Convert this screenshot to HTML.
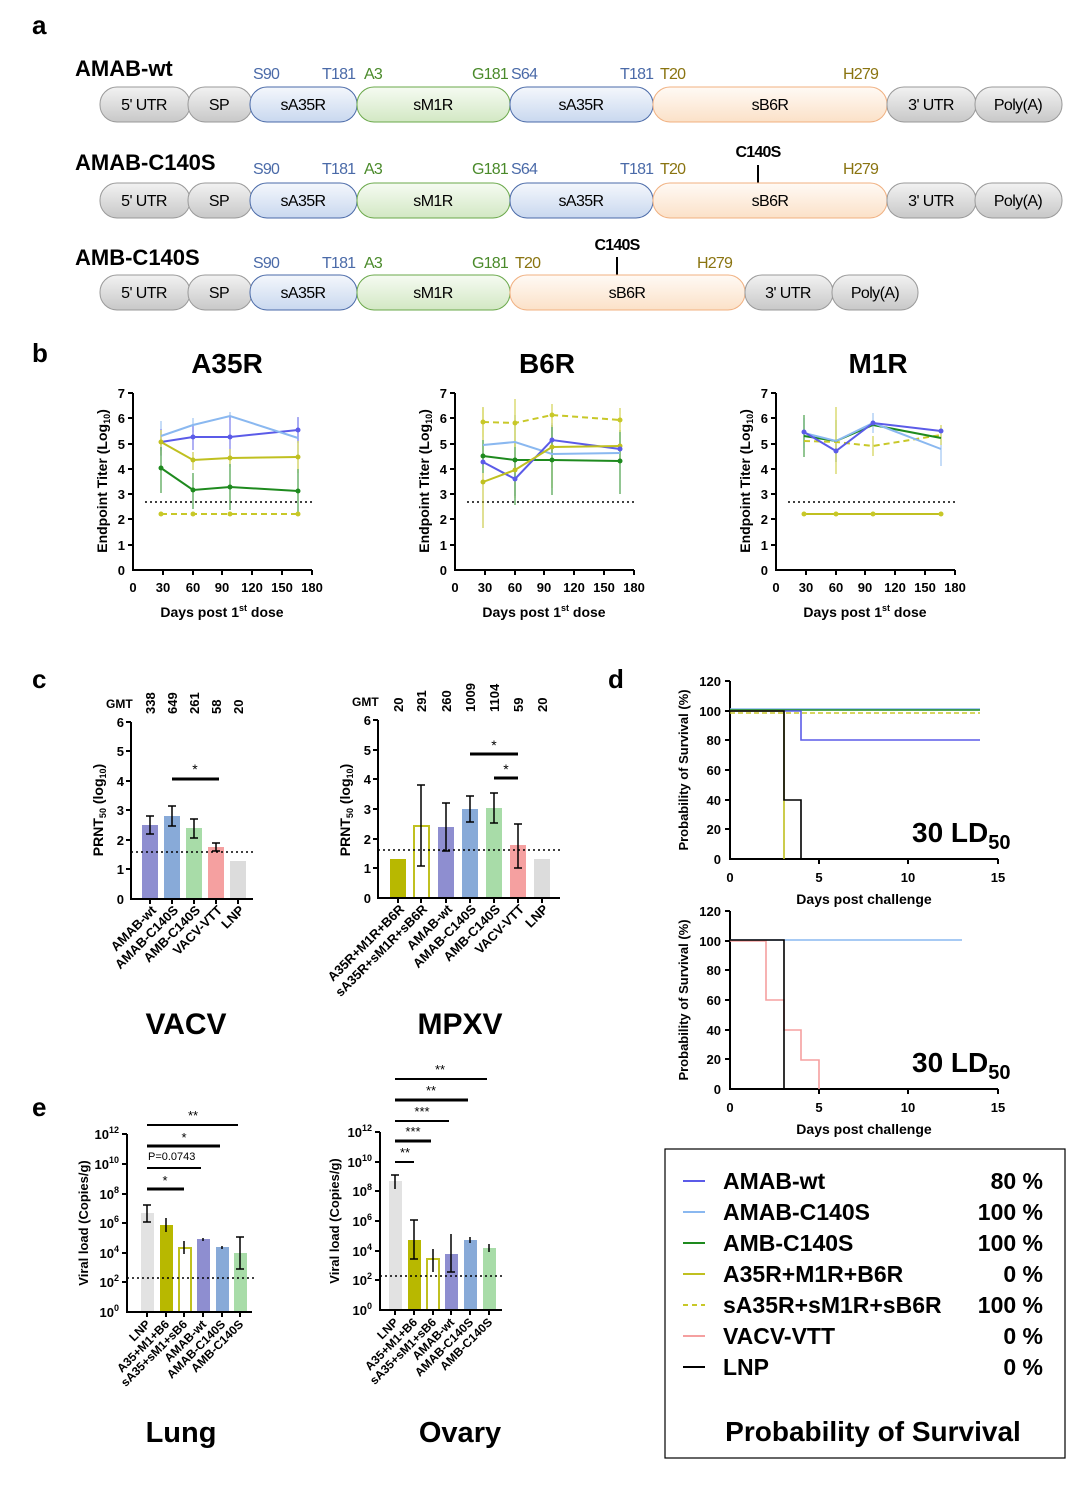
<!DOCTYPE html>
<html><head><meta charset="utf-8"><style>
html,body{margin:0;padding:0;background:#fff}
svg{display:block}
text{font-family:"Liberation Sans",Arial,sans-serif}
.n{font-family:"Liberation Sans Narrow","Liberation Sans",sans-serif;letter-spacing:-0.8px}
.seg{font-family:"Liberation Sans Narrow","Liberation Sans",sans-serif;font-size:16px;letter-spacing:-0.6px;text-anchor:middle}
.tk{font-size:13px;font-weight:bold}
.ax{stroke:#000;stroke-width:2;fill:none}
.dot{stroke:#000;stroke-width:1.5;stroke-dasharray:2,3;fill:none}
</style></head><body>
<svg width="1092" height="1486" viewBox="0 0 1092 1486" xmlns="http://www.w3.org/2000/svg">
<defs>
<linearGradient id="gG" x1="0" y1="0" x2="0" y2="1"><stop offset="0" stop-color="#f2f2f2"/><stop offset="1" stop-color="#c8c8c8"/></linearGradient>
<linearGradient id="gB" x1="0" y1="0" x2="0" y2="1"><stop offset="0" stop-color="#f4f7fc"/><stop offset="1" stop-color="#c9d8ef"/></linearGradient>
<linearGradient id="gM" x1="0" y1="0" x2="0" y2="1"><stop offset="0" stop-color="#f6fbf2"/><stop offset="1" stop-color="#d3e8c4"/></linearGradient>
<linearGradient id="gO" x1="0" y1="0" x2="0" y2="1"><stop offset="0" stop-color="#fffaf5"/><stop offset="1" stop-color="#fbe1c8"/></linearGradient>
</defs>
<g font-weight="bold" font-size="26"><text x="32" y="34">a</text><text x="32" y="362">b</text><text x="32" y="688">c</text><text x="608" y="688">d</text><text x="32" y="1116">e</text></g>

<!-- Panel a -->
<g font-weight="bold" font-size="22"><text x="75" y="76">AMAB-wt</text><text x="75" y="170">AMAB-C140S</text><text x="75" y="265">AMB-C140S</text></g>
<g class="n" font-size="16">
<g fill="#4a6aa8"><text x="253" y="79">S90</text><text x="322" y="79">T181</text><text x="511" y="79">S64</text><text x="620" y="79">T181</text>
<text x="253" y="174">S90</text><text x="322" y="174">T181</text><text x="511" y="174">S64</text><text x="620" y="174">T181</text>
<text x="253" y="268">S90</text><text x="322" y="268">T181</text></g>
<g fill="#4a8a2a"><text x="364" y="79">A3</text><text x="472" y="79">G181</text><text x="364" y="174">A3</text><text x="472" y="174">G181</text><text x="364" y="268">A3</text><text x="472" y="268">G181</text></g>
<g fill="#8a7410"><text x="660" y="79">T20</text><text x="843" y="79">H279</text><text x="660" y="174">T20</text><text x="843" y="174">H279</text><text x="515" y="268">T20</text><text x="697" y="268">H279</text></g>
<g fill="#000" font-weight="bold"><text x="758" y="157" text-anchor="middle">C140S</text><text x="617" y="250" text-anchor="middle">C140S</text></g>
</g>
<line x1="758" y1="165" x2="758" y2="183" stroke="#000" stroke-width="2"/>
<line x1="617" y1="257" x2="617" y2="275" stroke="#000" stroke-width="2"/>
<g id="rowA">
<rect x="100" y="87" width="90" height="35" rx="17" fill="url(#gG)" stroke="#999"/>
<rect x="188" y="87" width="64" height="35" rx="17" fill="url(#gG)" stroke="#999"/>
<rect x="250" y="87" width="107" height="35" rx="17" fill="url(#gB)" stroke="#4a6aa8"/>
<rect x="357" y="87" width="153" height="35" rx="17" fill="url(#gM)" stroke="#6aa84a"/>
<rect x="510" y="87" width="143" height="35" rx="17" fill="url(#gB)" stroke="#4a6aa8"/>
<rect x="653" y="87" width="234" height="35" rx="17" fill="url(#gO)" stroke="#f0b080"/>
<rect x="887" y="87" width="89" height="35" rx="17" fill="url(#gG)" stroke="#999"/>
<rect x="975" y="87" width="87" height="35" rx="17" fill="url(#gG)" stroke="#999"/>
<g class="seg"><text x="144" y="110">5' UTR</text><text x="219" y="110">SP</text><text x="303" y="110">sA35R</text><text x="433" y="110">sM1R</text><text x="581" y="110">sA35R</text><text x="770" y="110">sB6R</text><text x="931" y="110">3' UTR</text><text x="1018" y="110">Poly(A)</text></g>
</g>
<use href="#rowA" y="96"/>
<g>
<rect x="100" y="275" width="90" height="35" rx="17" fill="url(#gG)" stroke="#999"/>
<rect x="188" y="275" width="64" height="35" rx="17" fill="url(#gG)" stroke="#999"/>
<rect x="250" y="275" width="107" height="35" rx="17" fill="url(#gB)" stroke="#4a6aa8"/>
<rect x="357" y="275" width="153" height="35" rx="17" fill="url(#gM)" stroke="#6aa84a"/>
<rect x="510" y="275" width="235" height="35" rx="17" fill="url(#gO)" stroke="#f0b080"/>
<rect x="745" y="275" width="88" height="35" rx="17" fill="url(#gG)" stroke="#999"/>
<rect x="832" y="275" width="86" height="35" rx="17" fill="url(#gG)" stroke="#999"/>
<g class="seg"><text x="144" y="298">5' UTR</text><text x="219" y="298">SP</text><text x="303" y="298">sA35R</text><text x="433" y="298">sM1R</text><text x="627" y="298">sB6R</text><text x="788" y="298">3' UTR</text><text x="875" y="298">Poly(A)</text></g>
</g>

<!-- Panel b -->
<g font-weight="bold" font-size="28" text-anchor="middle"><text x="227" y="373">A35R</text><text x="547" y="373">B6R</text><text x="878" y="373">M1R</text></g>
<g id="bax">
<path class="ax" d="M133,393 V570 H312"/>
<g stroke="#000" stroke-width="2"><line x1="128" y1="393" x2="133" y2="393"/><line x1="128" y1="418" x2="133" y2="418"/><line x1="128" y1="444" x2="133" y2="444"/><line x1="128" y1="469" x2="133" y2="469"/><line x1="128" y1="494" x2="133" y2="494"/><line x1="128" y1="519" x2="133" y2="519"/><line x1="128" y1="545" x2="133" y2="545"/>
<line x1="163" y1="570" x2="163" y2="575"/><line x1="193" y1="570" x2="193" y2="575"/><line x1="222" y1="570" x2="222" y2="575"/><line x1="252" y1="570" x2="252" y2="575"/><line x1="282" y1="570" x2="282" y2="575"/><line x1="312" y1="570" x2="312" y2="575"/></g>
<g class="tk" text-anchor="end"><text x="125" y="398">7</text><text x="125" y="423">6</text><text x="125" y="449">5</text><text x="125" y="474">4</text><text x="125" y="499">3</text><text x="125" y="524">2</text><text x="125" y="550">1</text><text x="125" y="575">0</text></g>
<g class="tk" text-anchor="middle"><text x="133" y="592">0</text><text x="163" y="592">30</text><text x="193" y="592">60</text><text x="222" y="592">90</text><text x="252" y="592">120</text><text x="282" y="592">150</text><text x="312" y="592">180</text></g>
<text x="222" y="617" font-size="14" font-weight="bold" text-anchor="middle">Days post 1<tspan font-size="9" dy="-6">st</tspan><tspan dy="6"> dose</tspan></text>
<text transform="translate(107,481) rotate(-90)" font-size="14" font-weight="bold" text-anchor="middle">Endpoint Titer (Log<tspan font-size="9" dy="3">10</tspan><tspan dy="-3">)</tspan></text>
<path class="dot" d="M145,502 H312"/>
</g>
<use href="#bax" x="322"/>
<use href="#bax" x="643"/>
<g stroke-width="1.2" fill="none" opacity="0.8">
<path stroke="#8ab8f0" d="M161,421V451M193,418V432M230,412V420M298,418V458M804,418V448M873,413V433M941,432V466"/>
<path stroke="#5b5be8" d="M161,429V456M193,424V450M230,417V458M298,417V443M515,462V496M552,423V457M836,440V462"/>
<path stroke="#c0c020" d="M161,430V455M193,452V470M230,449V467M298,441V473M483,407V528M515,442V498M552,425V488M620,430V462"/>
<path stroke="#1e8a1e" d="M161,447V493M193,473V509M230,464V510M298,469V514M483,440V473M515,415V505M552,425V495M620,430V494M804,415V457M836,420V462"/>
<path stroke="#c8c828" d="M483,408V437M515,399V447M552,404V427M620,408V432M836,407V474M873,436V456M941,425V445"/>
</g>
<g fill="none" stroke-width="2">
<polyline stroke="#c8c828" stroke-dasharray="6,4" points="161,514 193,514 230,514 298,514"/>
<polyline stroke="#1e8a1e" points="161,468 193,490 230,487 298,491"/>
<polyline stroke="#c0c020" points="161,442 193,460 230,458 298,457"/>
<polyline stroke="#5b5be8" points="161,442 193,437 230,437 298,430"/>
<polyline stroke="#8ab8f0" points="161,436 193,425 230,416 298,438"/>
<polyline stroke="#c8c828" stroke-dasharray="6,4" points="483,422 515,423 552,415 620,420"/>
<polyline stroke="#1e8a1e" points="483,456 515,460 552,460 620,461"/>
<polyline stroke="#8ab8f0" points="483,445 515,442 552,454 620,453"/>
<polyline stroke="#5b5be8" points="483,462 515,479 552,440 620,449"/>
<polyline stroke="#c0c020" points="483,482 515,470 552,447 620,446"/>
<polyline stroke="#c0c020" points="804,514 836,514 873,514 941,514"/>
<polyline stroke="#c8c828" stroke-dasharray="6,4" points="804,441 836,442 873,446 941,435"/>
<polyline stroke="#1e8a1e" points="804,436 836,441 873,425 941,438"/>
<polyline stroke="#8ab8f0" points="804,433 836,441 873,423 941,449"/>
<polyline stroke="#5b5be8" points="804,432 836,451 873,423 941,431"/>
</g>
<g>
<g fill="#c8c828"><circle cx="161" cy="514" r="2.5"/><circle cx="193" cy="514" r="2.5"/><circle cx="230" cy="514" r="2.5"/><circle cx="298" cy="514" r="2.5"/><circle cx="483" cy="422" r="2.5"/><circle cx="515" cy="423" r="2.5"/><circle cx="552" cy="415" r="2.5"/><circle cx="620" cy="420" r="2.5"/><circle cx="804" cy="514" r="2.5"/><circle cx="836" cy="514" r="2.5"/><circle cx="873" cy="514" r="2.5"/><circle cx="941" cy="514" r="2.5"/></g>
<g fill="#1e8a1e"><circle cx="161" cy="468" r="2.5"/><circle cx="193" cy="490" r="2.5"/><circle cx="230" cy="487" r="2.5"/><circle cx="298" cy="491" r="2.5"/><circle cx="483" cy="456" r="2.5"/><circle cx="515" cy="460" r="2.5"/><circle cx="552" cy="460" r="2.5"/><circle cx="620" cy="461" r="2.5"/></g>
<g fill="#c0c020"><circle cx="161" cy="442" r="2.5"/><circle cx="193" cy="460" r="2.5"/><circle cx="230" cy="458" r="2.5"/><circle cx="298" cy="457" r="2.5"/><circle cx="483" cy="482" r="2.5"/><circle cx="515" cy="470" r="2.5"/><circle cx="552" cy="447" r="2.5"/><circle cx="620" cy="446" r="2.5"/></g>
<g fill="#5b5be8"><circle cx="193" cy="437" r="2.5"/><circle cx="230" cy="437" r="2.5"/><circle cx="298" cy="430" r="2.5"/><circle cx="483" cy="462" r="2.5"/><circle cx="515" cy="479" r="2.5"/><circle cx="552" cy="440" r="2.5"/><circle cx="620" cy="449" r="2.5"/><circle cx="804" cy="432" r="2.5"/><circle cx="836" cy="451" r="2.5"/><circle cx="873" cy="423" r="2.5"/><circle cx="941" cy="431" r="2.5"/></g>
</g>

<!-- Panel c VACV -->
<text x="106" y="708" font-size="12" font-weight="bold">GMT</text>
<g font-size="13" font-weight="bold" text-anchor="start">
<text transform="translate(155,714) rotate(-90)">338</text><text transform="translate(177,714) rotate(-90)">649</text><text transform="translate(199,714) rotate(-90)">261</text><text transform="translate(221,714) rotate(-90)">58</text><text transform="translate(243,714) rotate(-90)">20</text>
</g>
<rect x="142" y="825" width="16" height="74" fill="#8e8ed0"/><rect x="164" y="816" width="16" height="83" fill="#88aad8"/><rect x="186" y="828" width="16" height="71" fill="#a8dca8"/><rect x="208" y="847" width="16" height="52" fill="#f5a0a0"/><rect x="230" y="861" width="16" height="38" fill="#dcdcdc"/>
<g stroke="#000" stroke-width="1.5"><path d="M150,816V834M146,816H154M146,834H154M172,806V826M168,806H176M168,826H176M194,819V838M190,819H198M190,838H198M216,843V851M212,843H220M212,851H220"/></g>
<path class="ax" d="M131,722V899H253"/>
<g stroke="#000" stroke-width="2"><path d="M126,722H131M126,751H131M126,781H131M126,810H131M126,840H131M126,869H131M150,899V904M172,899V904M194,899V904M216,899V904M238,899V904"/></g>
<g class="tk" text-anchor="end"><text x="124" y="727">6</text><text x="124" y="756">5</text><text x="124" y="786">4</text><text x="124" y="815">3</text><text x="124" y="845">2</text><text x="124" y="874">1</text><text x="124" y="904">0</text></g>
<path class="dot" d="M131,852H255"/>
<line x1="172" y1="779" x2="219" y2="779" stroke="#000" stroke-width="3"/><text x="195" y="774" font-size="14" text-anchor="middle">*</text>
<text transform="translate(103,810) rotate(-90)" font-size="14" font-weight="bold" text-anchor="middle">PRNT<tspan font-size="9" dy="3">50</tspan><tspan dy="-3"> (log</tspan><tspan font-size="9" dy="3">10</tspan><tspan dy="-3">)</tspan></text>
<g class="tk" text-anchor="end">
<text transform="translate(157,911) rotate(-45)">AMAB-wt</text><text transform="translate(179,911) rotate(-45)">AMAB-C140S</text><text transform="translate(201,911) rotate(-45)">AMB-C140S</text><text transform="translate(223,911) rotate(-45)">VACV-VTT</text><text transform="translate(245,911) rotate(-45)">LNP</text>
</g>
<text x="186" y="1034" font-size="30" font-weight="bold" text-anchor="middle">VACV</text>

<!-- Panel c MPXV -->
<text x="352" y="706" font-size="12" font-weight="bold">GMT</text>
<g font-size="13" font-weight="bold">
<text transform="translate(403,712) rotate(-90)">20</text><text transform="translate(426,712) rotate(-90)">291</text><text transform="translate(451,712) rotate(-90)">260</text><text transform="translate(475,712) rotate(-90)">1009</text><text transform="translate(499,712) rotate(-90)">1104</text><text transform="translate(523,712) rotate(-90)">59</text><text transform="translate(547,712) rotate(-90)">20</text>
</g>
<rect x="390" y="859" width="16" height="39" fill="#b8b800"/><rect x="414" y="826" width="15" height="72" fill="#fff" stroke="#c0c020" stroke-width="2"/><rect x="438" y="827" width="16" height="71" fill="#8e8ed0"/><rect x="462" y="809" width="16" height="89" fill="#88aad8"/><rect x="486" y="808" width="16" height="90" fill="#a8dca8"/><rect x="510" y="845" width="16" height="53" fill="#f5a0a0"/><rect x="534" y="859" width="16" height="39" fill="#dcdcdc"/>
<g stroke="#000" stroke-width="1.5"><path d="M421,785V866M417,785H425M417,866H425M446,803V851M442,803H450M442,851H450M470,796V822M466,796H474M466,822H474M494,793V823M490,793H498M490,823H498M518,824V868M514,824H522M514,868H522"/></g>
<path class="ax" d="M378,720V898H560"/>
<g stroke="#000" stroke-width="2"><path d="M373,720H378M373,750H378M373,779H378M373,809H378M373,839H378M373,868H378M398,898V903M421,898V903M446,898V903M470,898V903M494,898V903M518,898V903M542,898V903"/></g>
<g class="tk" text-anchor="end"><text x="371" y="725">6</text><text x="371" y="755">5</text><text x="371" y="784">4</text><text x="371" y="814">3</text><text x="371" y="844">2</text><text x="371" y="873">1</text><text x="371" y="903">0</text></g>
<path class="dot" d="M378,850H560"/>
<line x1="470" y1="754" x2="518" y2="754" stroke="#000" stroke-width="3"/><text x="494" y="750" font-size="14" text-anchor="middle">*</text>
<line x1="494" y1="778" x2="518" y2="778" stroke="#000" stroke-width="3"/><text x="506" y="774" font-size="14" text-anchor="middle">*</text>
<text transform="translate(350,810) rotate(-90)" font-size="14" font-weight="bold" text-anchor="middle">PRNT<tspan font-size="9" dy="3">50</tspan><tspan dy="-3"> (log</tspan><tspan font-size="9" dy="3">10</tspan><tspan dy="-3">)</tspan></text>
<g class="tk" text-anchor="end">
<text transform="translate(405,910) rotate(-45)">A35R+M1R+B6R</text><text transform="translate(428,910) rotate(-45)">sA35R+sM1R+sB6R</text><text transform="translate(453,910) rotate(-45)">AMAB-wt</text><text transform="translate(477,910) rotate(-45)">AMAB-C140S</text><text transform="translate(501,910) rotate(-45)">AMB-C140S</text><text transform="translate(525,910) rotate(-45)">VACV-VTT</text><text transform="translate(549,910) rotate(-45)">LNP</text>
</g>
<text x="460" y="1034" font-size="30" font-weight="bold" text-anchor="middle">MPXV</text>

<!-- Panel d top -->
<g id="dax">
<path class="ax" d="M730,681V859H998"/>
<g stroke="#000" stroke-width="2"><path d="M725,681H730M725,711H730M725,740H730M725,770H730M725,800H730M725,829H730M819,859V864M908,859V864M998,859V864"/></g>
<g class="tk" text-anchor="end"><text x="721" y="686">120</text><text x="721" y="716">100</text><text x="721" y="745">80</text><text x="721" y="775">60</text><text x="721" y="805">40</text><text x="721" y="834">20</text><text x="721" y="864">0</text></g>
<g class="tk" text-anchor="middle"><text x="730" y="882">0</text><text x="819" y="882">5</text><text x="908" y="882">10</text><text x="998" y="882">15</text></g>
<text transform="translate(688,770) rotate(-90)" font-size="13" font-weight="bold" text-anchor="middle">Probability of Survival (%)</text>
<text x="864" y="904" font-size="14" font-weight="bold" text-anchor="middle">Days post challenge</text>
<text x="912" y="842" font-size="28" font-weight="bold">30 LD<tspan font-size="20" dy="7">50</tspan></text>
</g>
<g fill="none" stroke-width="1.6">
<path stroke="#8ab8f0" d="M730,709H980"/><path stroke="#1e8a1e" d="M730,710H980"/>
<path stroke="#c8c828" stroke-dasharray="5,3" d="M730,713H980"/>
<path stroke="#5b5be8" d="M730,711H801V740H980"/>
<path stroke="#c0c020" d="M730,711H784V859"/>
<path stroke="#000" d="M730,711H784V800H801V859"/>
</g>
<use href="#dax" y="230"/>
<g fill="none" stroke-width="1.6">
<path stroke="#8ab8f0" d="M730,940H962"/>
<path stroke="#f5a0a0" d="M730,941H766V1000H784V1030H801V1060H819V1089"/>
<path stroke="#000" d="M730,940H784V1089"/>
</g>

<!-- Legend -->
<rect x="665" y="1149" width="400" height="309" fill="#fff" stroke="#000" stroke-width="1.2"/>
<g stroke-width="2"><path stroke="#5b5be8" d="M683,1181H705"/><path stroke="#8ab8f0" d="M683,1212H705"/><path stroke="#1e8a1e" d="M683,1243H705"/><path stroke="#c0c020" d="M683,1274H705"/><path stroke="#c8c828" stroke-dasharray="5,4" d="M683,1305H705"/><path stroke="#f5a0a0" d="M683,1336H705"/><path stroke="#000" d="M683,1367H705"/></g>
<g font-size="23" font-weight="bold">
<text x="723" y="1189">AMAB-wt</text><text x="723" y="1220">AMAB-C140S</text><text x="723" y="1251">AMB-C140S</text><text x="723" y="1282">A35R+M1R+B6R</text><text x="723" y="1313">sA35R+sM1R+sB6R</text><text x="723" y="1344">VACV-VTT</text><text x="723" y="1375">LNP</text>
<g text-anchor="end"><text x="1043" y="1189">80 %</text><text x="1043" y="1220">100 %</text><text x="1043" y="1251">100 %</text><text x="1043" y="1282">0 %</text><text x="1043" y="1313">100 %</text><text x="1043" y="1344">0 %</text><text x="1043" y="1375">0 %</text></g>
</g>
<text x="873" y="1441" font-size="28" font-weight="bold" text-anchor="middle">Probability of Survival</text>

<!-- Panel e Lung -->
<rect x="141" y="1213" width="13" height="99" fill="#e2e2e2"/><rect x="160" y="1225" width="13" height="87" fill="#b8b800"/><rect x="179" y="1248" width="12" height="64" fill="#fff" stroke="#c0c020" stroke-width="2"/><rect x="197" y="1239" width="13" height="73" fill="#8e8ed0"/><rect x="216" y="1247" width="13" height="65" fill="#88aad8"/><rect x="234" y="1253" width="13" height="59" fill="#a8dca8"/>
<g stroke="#000" stroke-width="1.5"><path d="M147,1205V1222M143,1205H151M143,1222H151M166,1218V1232M184,1241V1254M203,1238V1241M222,1246V1249M240,1237V1269M236,1237H244M236,1269H244"/></g>
<path class="ax" d="M127,1134V1312H252"/>
<g stroke="#000" stroke-width="2"><path d="M122,1134H127M122,1164H127M122,1194H127M122,1223H127M122,1253H127M122,1282H127M147,1312V1317M166,1312V1317M184,1312V1317M203,1312V1317M222,1312V1317M240,1312V1317"/></g>
<g class="tk" text-anchor="end"><text x="119" y="1139">10<tspan font-size="9" dy="-6">12</tspan></text><text x="119" y="1169">10<tspan font-size="9" dy="-6">10</tspan></text><text x="119" y="1199">10<tspan font-size="9" dy="-6">8</tspan></text><text x="119" y="1228">10<tspan font-size="9" dy="-6">6</tspan></text><text x="119" y="1258">10<tspan font-size="9" dy="-6">4</tspan></text><text x="119" y="1287">10<tspan font-size="9" dy="-6">2</tspan></text><text x="119" y="1317">10<tspan font-size="9" dy="-6">0</tspan></text></g>
<path class="dot" d="M127,1278H254"/>
<g stroke="#000"><path d="M147,1189H184" stroke-width="3"/><path d="M147,1168H201" stroke-width="2"/><path d="M147,1146H220" stroke-width="3"/><path d="M147,1125H238" stroke-width="2"/></g>
<g font-size="13" text-anchor="middle"><text x="165" y="1185">*</text><text x="148" y="1160" text-anchor="start" font-size="11">P=0.0743</text><text x="184" y="1142">*</text><text x="193" y="1120">**</text></g>
<text transform="translate(88,1223) rotate(-90)" font-size="13" font-weight="bold" text-anchor="middle">Viral load (Copies/g)</text>
<g font-size="12" font-weight="bold" text-anchor="end">
<text transform="translate(151,1325) rotate(-45)">LNP</text><text transform="translate(170,1325) rotate(-45)">A35+M1+B6</text><text transform="translate(188,1325) rotate(-45)">sA35+sM1+sB6</text><text transform="translate(207,1325) rotate(-45)">AMAB-wt</text><text transform="translate(226,1325) rotate(-45)">AMAB-C140S</text><text transform="translate(244,1325) rotate(-45)">AMB-C140S</text>
</g>
<text x="181" y="1442" font-size="29" font-weight="bold" text-anchor="middle">Lung</text>

<!-- Panel e Ovary -->
<rect x="389" y="1181" width="13" height="129" fill="#e2e2e2"/><rect x="408" y="1240" width="13" height="70" fill="#b8b800"/><rect x="427" y="1259" width="12" height="51" fill="#fff" stroke="#c0c020" stroke-width="2"/><rect x="445" y="1254" width="13" height="56" fill="#8e8ed0"/><rect x="464" y="1240" width="13" height="70" fill="#88aad8"/><rect x="483" y="1248" width="13" height="62" fill="#a8dca8"/>
<g stroke="#000" stroke-width="1.5"><path d="M395,1175V1189M391,1175H399M414,1220V1259M410,1220H418M410,1259H418M433,1249V1272M451,1234V1272M447,1272H455M470,1237V1243M489,1244V1252"/></g>
<path class="ax" d="M380,1132V1310H502"/>
<g stroke="#000" stroke-width="2"><path d="M375,1132H380M375,1162H380M375,1191H380M375,1221H380M375,1251H380M375,1280H380M395,1310V1315M414,1310V1315M433,1310V1315M451,1310V1315M470,1310V1315M489,1310V1315"/></g>
<g class="tk" text-anchor="end"><text x="372" y="1137">10<tspan font-size="9" dy="-6">12</tspan></text><text x="372" y="1167">10<tspan font-size="9" dy="-6">10</tspan></text><text x="372" y="1196">10<tspan font-size="9" dy="-6">8</tspan></text><text x="372" y="1226">10<tspan font-size="9" dy="-6">6</tspan></text><text x="372" y="1256">10<tspan font-size="9" dy="-6">4</tspan></text><text x="372" y="1285">10<tspan font-size="9" dy="-6">2</tspan></text><text x="372" y="1315">10<tspan font-size="9" dy="-6">0</tspan></text></g>
<path class="dot" d="M380,1276H502"/>
<g stroke="#000"><path d="M395,1162H414" stroke-width="2"/><path d="M395,1141H431" stroke-width="3"/><path d="M395,1121H449" stroke-width="2"/><path d="M395,1100H468" stroke-width="3"/><path d="M395,1079H487" stroke-width="2"/></g>
<g font-size="13" text-anchor="middle"><text x="405" y="1157">**</text><text x="413" y="1136">***</text><text x="422" y="1116">***</text><text x="431" y="1095">**</text><text x="440" y="1074">**</text></g>
<text transform="translate(339,1221) rotate(-90)" font-size="13" font-weight="bold" text-anchor="middle">Viral load (Copies/g)</text>
<g font-size="12" font-weight="bold" text-anchor="end">
<text transform="translate(399,1323) rotate(-45)">LNP</text><text transform="translate(418,1323) rotate(-45)">A35+M1+B6</text><text transform="translate(437,1323) rotate(-45)">sA35+sM1+sB6</text><text transform="translate(455,1323) rotate(-45)">AMAB-wt</text><text transform="translate(474,1323) rotate(-45)">AMAB-C140S</text><text transform="translate(493,1323) rotate(-45)">AMB-C140S</text>
</g>
<text x="460" y="1442" font-size="29" font-weight="bold" text-anchor="middle">Ovary</text>
</svg>
</body></html>
